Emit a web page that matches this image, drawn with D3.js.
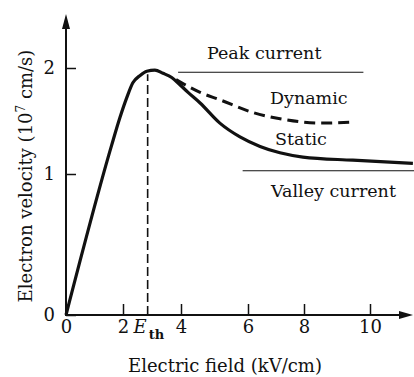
<!DOCTYPE html>
<html>
<head>
<meta charset="utf-8">
<script src="https://cdn.jsdelivr.net/npm/d3@7"></script>
<style>
  html, body { margin: 0; padding: 0; background: #fff; }
  svg { display: block; }
  text { font-family: "DejaVu Serif", "Liberation Serif", serif; fill: #111; }
</style>
</head>
<body>
<svg id="chart" width="414" height="377"></svg>
<script>
// ---- data ----
const staticField    = [0, 1.60, 1.89, 2.13, 2.34, 2.59, 2.82, 3.10, 3.38, 3.68, 3.97, 4.21, 4.57, 5.16, 5.76, 6.43, 7.14, 7.96, 9.48, 11.3];
const staticVelocity = [0, 1.27, 1.53, 1.72, 1.86, 1.93, 1.97, 1.98, 1.95, 1.91, 1.84, 1.77, 1.67, 1.48, 1.35, 1.26, 1.20, 1.16, 1.13, 1.10];
const dynamicField    = [3.83, 4.57, 5.16, 6.18, 7.39, 8.48, 9.48];
const dynamicVelocity = [1.89, 1.77, 1.70, 1.58, 1.51, 1.48, 1.49];
const xTicks = [0, 2, 4, 6, 8, 10];
const yTicks = [0, 1, 2];
const thresholdField = 2.85;
const peakCurrent   = { v: 1.96, from: 3.9, to: 9.8 };
const valleyCurrent = { v: 1.03, from: 5.84, to: 11.4 };

// ---- layout ----
const svg = d3.select("#chart");
const x = d3.scaleLinear().domain([0, 2, 4, 6, 8, 10]).range([66, 123, 181, 248, 304, 370]);
const y = d3.scaleLinear().domain([0, 1, 2]).range([315, 174, 68]);
const x0 = x(0), y0 = y(0);
const xEnd = 413, yTop = 14;

// axes lines with arrowheads
svg.append("line").attr("x1", x0).attr("y1", y0).attr("x2", xEnd - 10).attr("y2", y0)
  .attr("stroke", "#111").attr("stroke-width", 2);
svg.append("path").attr("d", `M${xEnd},${y0} L${xEnd - 14},${y0 - 4} L${xEnd - 14},${y0 + 4} Z`).attr("fill", "#111");
svg.append("line").attr("x1", x0).attr("y1", y0 + 1).attr("x2", x0).attr("y2", yTop + 10)
  .attr("stroke", "#111").attr("stroke-width", 2);
svg.append("path").attr("d", `M${x0},${yTop} L${x0 - 4},${yTop + 15} L${x0 + 4},${yTop + 15} Z`).attr("fill", "#111");

// x axis ticks
const xAxis = d3.axisBottom(x).tickValues(xTicks).tickSize(-11).tickPadding(18).tickFormat(d3.format("d"));
const gx = svg.append("g").attr("transform", `translate(0,${y0})`).call(xAxis);
gx.select(".domain").remove();
gx.selectAll(".tick line").attr("stroke", "#111").attr("stroke-width", 1.5);
gx.selectAll(".tick text").attr("font-family", "DejaVu Serif").attr("font-size", 18).attr("fill", "#111")
  .attr("dy", null).attr("y", 18);

// y axis ticks
const yAxis = d3.axisLeft(y).tickValues(yTicks).tickSize(-10).tickPadding(11).tickFormat(d3.format("d"));
const gy = svg.append("g").attr("transform", `translate(${x0},0)`).call(yAxis);
gy.select(".domain").remove();
gy.selectAll(".tick line").attr("stroke", "#111").attr("stroke-width", 1.5);
gy.selectAll(".tick text").attr("font-family", "DejaVu Serif").attr("font-size", 18).attr("fill", "#111");

// E_th label
svg.append("text").attr("x", x(thresholdField) - 1).attr("y", y0 + 18)
  .attr("text-anchor", "end").attr("font-size", 18).attr("font-style", "italic").text("E");
svg.append("text").attr("x", x(thresholdField) + 1).attr("y", y0 + 24)
  .attr("font-size", 13).attr("font-weight", "bold").text("th");

// threshold dashed line
svg.append("line").attr("x1", x(thresholdField)).attr("x2", x(thresholdField))
  .attr("y1", y0).attr("y2", y(1.94))
  .attr("stroke", "#111").attr("stroke-width", 1.6).attr("stroke-dasharray", "9,4");

// peak & valley current lines
svg.append("line").attr("x1", x(peakCurrent.from)).attr("x2", x(peakCurrent.to))
  .attr("y1", y(peakCurrent.v)).attr("y2", y(peakCurrent.v)).attr("stroke", "#111").attr("stroke-width", 1.1);
svg.append("line").attr("x1", x(valleyCurrent.from)).attr("x2", x(valleyCurrent.to))
  .attr("y1", y(valleyCurrent.v)).attr("y2", y(valleyCurrent.v)).attr("stroke", "#111").attr("stroke-width", 1.1);

// curves
const line = d3.line().x(d => x(d[0])).y(d => y(d[1])).curve(d3.curveMonotoneX);
svg.append("path").datum(d3.zip(staticField, staticVelocity)).attr("d", line)
  .attr("fill", "none").attr("stroke", "#111").attr("stroke-width", 3.2).attr("stroke-linejoin", "round");
svg.append("path").datum(d3.zip(dynamicField, dynamicVelocity)).attr("d", line)
  .attr("fill", "none").attr("stroke", "#111").attr("stroke-width", 3).attr("stroke-dasharray", "11,6");

// annotations
const fs = 17.5;
svg.append("text").attr("x", 207).attr("y", 59).attr("font-size", fs).text("Peak current");
svg.append("text").attr("x", 270).attr("y", 104).attr("font-size", fs).text("Dynamic");
svg.append("text").attr("x", 275).attr("y", 145).attr("font-size", fs).text("Static");
svg.append("text").attr("x", 271).attr("y", 197).attr("font-size", fs).text("Valley current");

// axis titles
svg.append("text").attr("x", 225).attr("y", 372).attr("text-anchor", "middle").attr("font-size", 18)
  .text("Electric field (kV/cm)");
const yt = svg.append("text").attr("transform", "translate(32,176) rotate(-90)")
  .attr("text-anchor", "middle").attr("font-size", 18);
yt.append("tspan").text("Electron velocity (10");
yt.append("tspan").attr("dy", -7).attr("font-size", 12).text("7");
yt.append("tspan").attr("dy", 7).text(" cm/s)");
</script>
</body>
</html>
